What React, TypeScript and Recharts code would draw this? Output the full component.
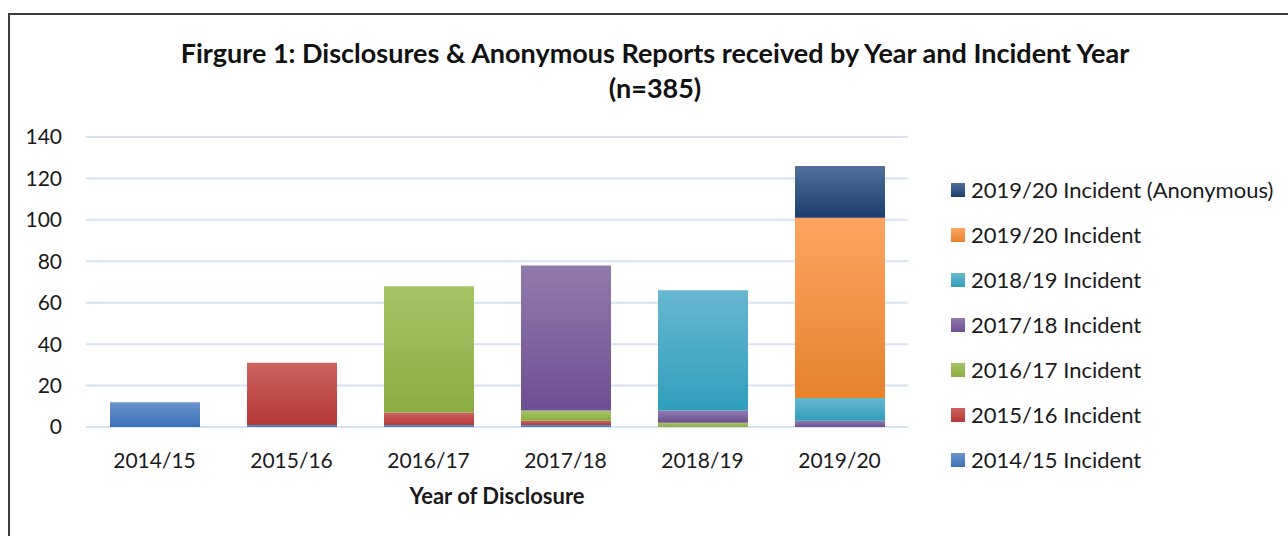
import React from 'react';
import { BarChart, Bar, XAxis, YAxis, CartesianGrid, Legend } from 'recharts';

const categories = ['2014/15', '2015/16', '2016/17', '2017/18', '2018/19', '2019/20'];
const incident1415 = [12, 1, 1, 1, 0, 0];
const incident1516 = [0, 30, 6, 2, 0, 0];
const incident1617 = [0, 0, 61, 5, 2, 0];
const incident1718 = [0, 0, 0, 70, 6, 3];
const incident1819 = [0, 0, 0, 0, 58, 11];
const incident1920 = [0, 0, 0, 0, 0, 87];
const incident1920Anon = [0, 0, 0, 0, 0, 25];
const yTicks = [0, 20, 40, 60, 80, 100, 120, 140];

const seriesNames = [
  '2014/15 Incident',
  '2015/16 Incident',
  '2016/17 Incident',
  '2017/18 Incident',
  '2018/19 Incident',
  '2019/20 Incident',
  '2019/20 Incident (Anonymous)',
];
const seriesKeys = ['s1415', 's1516', 's1617', 's1718', 's1819', 's1920', 's1920a'];
const seriesValues = [incident1415, incident1516, incident1617, incident1718, incident1819, incident1920, incident1920Anon];

// gradient colours [top, bottom]
const seriesColors: [string, string][] = [
  ['#6a93ce', '#3c71b7'],
  ['#cd625f', '#b43935'],
  ['#a6c566', '#89ad43'],
  ['#927aad', '#6e4e93'],
  ['#68b7d0', '#2f9fbc'],
  ['#fea462', '#e7822a'],
  ['#50709a', '#1d3e6d'],
];

const data = categories.map((c, i) => {
  const row: Record<string, string | number> = { year: c };
  seriesKeys.forEach((k, j) => {
    row[k] = seriesValues[j][i];
  });
  return row;
});

const FONT = 'Lato, "Open Sans", sans-serif';
const GRID = '#d7e2f2';

const renderLegend = () => {
  const idx = seriesKeys.map((_, i) => i).reverse();
  return (
    <div style={{ fontFamily: FONT, fontSize: 22, color: '#1a1a1a' }}>
      {idx.map((i) => (
        <div key={seriesKeys[i]} style={{ height: 45, display: 'flex', alignItems: 'center', whiteSpace: 'nowrap' }}>
          <span
            style={{
              display: 'inline-block',
              width: 14,
              height: 14,
              marginRight: 6,
              background: `linear-gradient(${seriesColors[i][0]}, ${seriesColors[i][1]})`,
            }}
          />
          <span>{seriesNames[i]}</span>
        </div>
      ))}
    </div>
  );
};

export default function App() {
  return (
    <div
      style={{
        position: 'fixed',
        top: 13,
        left: 8,
        width: 1282,
        height: 530,
        boxSizing: 'border-box',
        borderTop: '2px solid #3b3b3b',
        borderLeft: '2px solid #3b3b3b',
        overflow: 'hidden',
        background: '#fff',
      }}
    >
      <div
        style={{
          position: 'absolute',
          top: 20,
          left: 0,
          width: 1290,
          textAlign: 'center',
          fontFamily: FONT,
          fontWeight: 700,
          fontSize: 27,
          lineHeight: '35px',
          color: '#111',
        }}
      >
        <div>Firgure 1: Disclosures &amp; Anonymous Reports received by Year and Incident Year</div>
        <div>(n=385)</div>
      </div>
      <div style={{ position: 'absolute', left: 0, top: 0 }}>
        <BarChart
          width={1278}
          height={510}
          data={data}
          margin={{ top: 122, right: 380, bottom: 58, left: 0 }}
          barSize={90}
        >
          <defs>
            {seriesKeys.map((k, i) => (
              <linearGradient key={k} id={`grad-${k}`} x1="0" y1="0" x2="0" y2="1">
                <stop offset="0%" stopColor={seriesColors[i][0]} />
                <stop offset="100%" stopColor={seriesColors[i][1]} />
              </linearGradient>
            ))}
          </defs>
          <CartesianGrid horizontal vertical={false} stroke={GRID} strokeWidth={2} />
          <XAxis
            dataKey="year"
            axisLine={false}
            tickLine={false}
            tickSize={0}
            tickMargin={26}
            height={40}
            tick={{ fontFamily: FONT, fontSize: 21, fill: '#1a1a1a' }}
            label={{
              value: 'Year of Disclosure',
              position: 'bottom',
              offset: 21,
              style: { fontFamily: FONT, fontSize: 22, fontWeight: 700, fill: '#1a1a1a' },
            }}
          />
          <YAxis
            width={76}
            domain={[0, 140]}
            ticks={yTicks}
            axisLine={false}
            tickLine={false}
            tickSize={0}
            tickMargin={24}
            tick={{ fontFamily: FONT, fontSize: 21, fill: '#1a1a1a' }}
          />
          <Legend
            layout="horizontal"
            verticalAlign="middle"
            align="center"
            content={renderLegend}
            wrapperStyle={{ left: 941, top: 152, width: 340, bottom: 'auto', right: 'auto' }}
          />
          {seriesKeys.map((k, i) => (
            <Bar
              key={k}
              dataKey={k}
              name={seriesNames[i]}
              stackId="a"
              fill={`url(#grad-${k})`}
              isAnimationActive={false}
            />
          ))}
        </BarChart>
      </div>
    </div>
  );
}
